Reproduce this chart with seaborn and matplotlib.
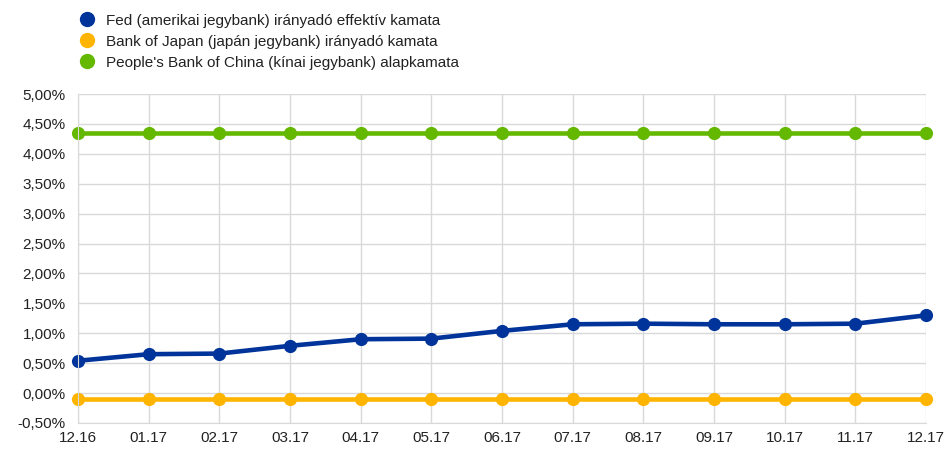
import pandas as pd
import matplotlib.pyplot as plt
import matplotlib.ticker as mticker
from matplotlib.lines import Line2D
import seaborn as sns

months = ["12.16", "01.17", "02.17", "03.17", "04.17", "05.17", "06.17",
          "07.17", "08.17", "09.17", "10.17", "11.17", "12.17"]
fed = [0.54, 0.65, 0.66, 0.79, 0.90, 0.91, 1.04, 1.15, 1.16, 1.15, 1.15, 1.16, 1.30]
boj = [-0.10] * 13
pboc = [4.35] * 13

names = ["Fed (amerikai jegybank) irányadó effektív kamata",
         "Bank of Japan (japán jegybank) irányadó kamata",
         "People's Bank of China (kínai jegybank) alapkamata"]
colors = ["#00349A", "#FFB400", "#65B800"]

df = pd.DataFrame({"x": list(range(len(months))) * 3,
                   "v": fed + boj + pboc,
                   "s": [names[0]] * 13 + [names[1]] * 13 + [names[2]] * 13})

sns.set_style("white")
plt.rcParams["font.family"] = ["Liberation Sans", "DejaVu Sans"]

fig = plt.figure(figsize=(9.47, 4.49), dpi=100)
ax = fig.add_axes([0.0824, 0.058, 0.8956, 0.7326])

sns.lineplot(data=df, x="x", y="v", hue="s", palette=colors, hue_order=names,
             marker="o", markersize=9.5, markeredgewidth=0, linewidth=3.3,
             legend=False, ax=ax)
for ln in ax.lines:
    ln.set_clip_on(False)

ax.set_xlim(0, len(months) - 1)
ax.set_ylim(-0.5, 5.0)
ax.set_xticks(range(len(months)))
ax.set_xticklabels(months)
ax.set_yticks([i * 0.5 - 0.5 for i in range(12)])
ax.yaxis.set_major_formatter(mticker.FuncFormatter(lambda v, p: f"{v:.2f}%".replace(".", ",")))
ax.set_xlabel("")
ax.set_ylabel("")
ax.grid(True, color="#D9D9D9", linewidth=1)
for s in ["top", "right"]:
    ax.spines[s].set_visible(False)
for s in ["left", "bottom"]:
    ax.spines[s].set_color("#D9D9D9")
ax.tick_params(axis="both", length=0, labelsize=11, colors="#222222")
ax.tick_params(axis="y", pad=9)
ax.tick_params(axis="x", pad=6)

handles = [Line2D([], [], marker="o", linestyle="", color=c, markersize=10) for c in colors]
fig.legend(handles, names, loc="upper left", bbox_to_anchor=(0.068, 1.0),
           frameon=False, fontsize=11, handletextpad=0.6, labelspacing=0.45,
           handlelength=1.2, labelcolor="#222222")

fig.savefig("out.png", dpi=100)
